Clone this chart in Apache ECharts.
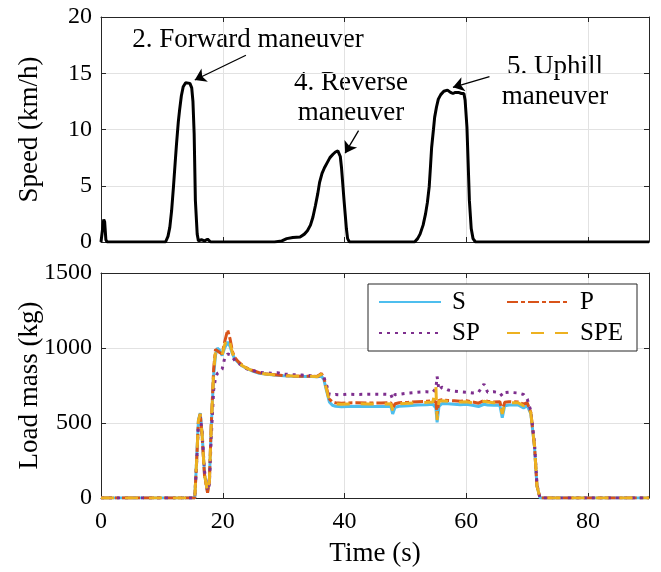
<!DOCTYPE html>
<html>
<head>
<meta charset="utf-8">
<script src="https://cdn.jsdelivr.net/npm/echarts@6/dist/echarts.min.js"></script>
<style>
  html, body { margin: 0; padding: 0; background: #fff; }
  #chart { width: 661px; height: 572px; }
</style>
</head>
<body>
<div id="chart"></div>
<script>
// top panel: vehicle speed
const timeSpeed = [0, 0.3, 0.45, 0.6, 0.8, 1.0, 6.0, 6.2, 6.4,
  10.6, 11.0, 11.3, 11.6, 11.9, 12.2, 12.4, 12.7, 12.9, 13.2,
  13.5, 13.9, 14.2, 14.6, 14.9, 15.1, 15.3, 15.5, 15.8, 16.0,
  16.5, 17.0, 17.5, 18.0,
  28.5, 29.7, 30.5, 31.5, 32.7, 33.4, 33.9, 34.4, 34.8, 35.2,
  35.6, 35.9, 36.3, 36.7, 37.2, 37.6, 38.1, 38.5, 38.9, 39.1,
  39.3, 39.5, 39.7, 39.9, 40.1, 40.3, 40.5, 40.8,
  51.5, 52.0, 52.4, 52.9, 53.3, 53.6, 53.9, 54.1, 54.3, 54.6,
  54.8, 55.1, 55.4, 55.8, 56.3, 56.9, 57.4, 57.8, 58.2, 58.7,
  59.2, 59.6, 59.8, 60.1, 60.3, 60.5, 60.8, 61.1, 61.5, 90]
const speedKmh = [0, 0, 2.0, 1.8, 0.2, 0, 0, 0.15, 0,
  0, 0.5, 1.3, 2.8, 4.9, 7.2, 8.7, 10.7, 11.7, 13.0,
  13.8, 14.15, 14.2, 14.1, 13.7, 12.5, 9.6, 3.7, 0.7, 0.1,
  0.2, 0.1, 0.25, 0,
  0, 0.1, 0.3, 0.4, 0.45, 0.7, 1.0, 1.5, 2.2, 3.2,
  4.3, 5.3, 6.1, 6.6, 7.1, 7.5, 7.8, 8.0, 8.1, 8.0,
  7.6, 6.6, 5.2, 3.8, 2.5, 1.2, 0.3, 0,
  0, 0.3, 0.7, 1.5, 2.5, 3.5, 4.9, 6.6, 8.4, 10.0,
  11.1, 12.0, 12.7, 13.1, 13.4, 13.5, 13.3, 13.2, 13.3, 13.3,
  13.2, 13.2, 12.6, 10.2, 7.0, 3.7, 1.2, 0.3, 0, 0]

// bottom panel: estimated load mass
const timeMass = [0, 15.4, 15.7, 16.0, 16.3, 16.6, 17.0, 17.5, 17.8, 18.1,
  18.5, 18.8, 19.1, 19.5, 19.9, 20.3, 20.8, 21.2, 21.6, 22.0,
  22.5, 23.2, 24.0, 25.0, 26.0, 27.0, 28.0, 29.0, 30.0, 31.5,
  33.0, 34.5, 35.5, 36.2, 36.6, 37.0, 37.5, 38.0, 38.5, 39.5,
  40.5, 42.0, 44.0, 46.0, 47.6, 47.9, 48.3, 49.0, 50.5, 52.0,
  53.5, 54.5, 55.0, 55.2, 55.5, 56.0, 57.0, 58.0, 59.0, 60.0,
  61.0, 62.0, 62.9, 63.5, 64.5, 65.5, 65.9, 66.3, 67.0, 68.5,
  69.4, 70.0, 70.6, 71.2, 71.6, 72.1, 90]
const massS = [0, 0, 250, 520, 565, 430, 160, 40, 120, 470,
  820, 950, 1000, 985, 950, 1000, 1040, 1010, 960, 925,
  905, 880, 862, 845, 832, 826, 822, 818, 815, 812,
  810, 810, 808, 812, 790, 720, 640, 618, 612, 608,
  610, 612, 610, 610, 612, 560, 605, 612, 615, 620,
  622, 625, 600, 505, 610, 630, 628, 625, 622, 625,
  618, 610, 625, 620, 618, 620, 535, 615, 620, 620,
  600, 615, 560, 340, 80, 0, 0]
const massP = [0, 0, 240, 510, 560, 420, 150, 35, 110, 480,
  860, 990, 995, 970, 960, 1040, 1120, 1060, 975, 935,
  910, 885, 865, 848, 835, 828, 824, 820, 816, 814,
  812, 812, 810, 830, 800, 740, 660, 640, 635, 632,
  634, 635, 633, 633, 635, 600, 628, 635, 638, 642,
  645, 648, 640, 560, 650, 655, 650, 648, 645, 648,
  640, 632, 650, 645, 640, 642, 580, 638, 642, 640,
  625, 635, 570, 345, 80, 0, 0]
const massSP = [0, 0, 230, 500, 550, 440, 180, 50, 90, 400,
  720, 800, 830, 840, 860, 930, 960, 955, 940, 915,
  900, 880, 860, 850, 838, 835, 832, 835, 826, 822,
  820, 815, 812, 815, 805, 760, 690, 685, 690, 688,
  692, 690, 692, 692, 690, 660, 690, 692, 700, 705,
  708, 705, 730, 810, 720, 740, 720, 712, 708, 705,
  700, 705, 760, 705, 708, 702, 680, 702, 705, 700,
  690, 660, 580, 360, 90, 0, 0]
const massSPE = [0, 0, 245, 515, 560, 425, 155, 38, 115, 475,
  840, 975, 990, 975, 955, 1020, 1070, 1030, 965, 930,
  908, 882, 864, 846, 834, 827, 823, 819, 816, 813,
  811, 811, 809, 825, 795, 730, 650, 632, 628, 625,
  627, 628, 627, 627, 628, 585, 620, 628, 632, 636,
  638, 640, 740, 520, 645, 648, 645, 642, 640, 642,
  635, 628, 645, 640, 635, 638, 560, 632, 636, 635,
  615, 630, 565, 342, 80, 0, 0]

const seriesNames = ['S', 'P', 'SP', 'SPE']
const seriesColors = ['#4DBEEE', '#D95319', '#7E2F8E', '#EDB120']
const seriesDash = ['solid', [11, 3, 4, 3], [3, 5], [13, 11]]
const massValues = [massS, massP, massSP, massSPE]

// annotation arrows [tail time, tail speed, head time, head speed]
const arrows = [
  [23.8, 16.6, 15.4, 14.4],
  [42.3, 9.9, 40.1, 7.9],
  [63.8, 14.7, 57.8, 13.75]
]

const FONT = 'Liberation Serif'
const AXIS_COLOR = '#262626'
const GRID_COLOR = '#e2e2e2'

const chart = echarts.init(document.getElementById('chart'))

const pairs = (xs, ys) => xs.map((x, i) => [x, ys[i]])

const makeX = (gridIndex, position, labels) => ({
  type: 'value',
  gridIndex: gridIndex,
  position: position,
  min: 0,
  max: 90,
  interval: 20,
  axisLine: { onZero: false, lineStyle: { color: AXIS_COLOR, width: 1 } },
  axisTick: { inside: true, length: 5, lineStyle: { color: AXIS_COLOR } },
  axisLabel: {
    show: labels,
    showMaxLabel: false,
    margin: 12,
    color: '#000',
    fontFamily: FONT,
    fontSize: 24
  },
  splitLine: { show: position === 'bottom', lineStyle: { color: GRID_COLOR } }
})

const makeY = (gridIndex, position, max, interval, name) => ({
  type: 'value',
  gridIndex: gridIndex,
  position: position,
  min: 0,
  max: max,
  interval: interval,
  name: name,
  nameLocation: 'middle',
  nameRotate: 90,
  nameGap: 58,
  nameMoveOverlap: false,
  nameTextStyle: { color: '#000', fontFamily: FONT, fontSize: 27 },
  axisLine: { onZero: false, lineStyle: { color: AXIS_COLOR, width: 1 } },
  axisTick: { inside: true, length: 5, lineStyle: { color: AXIS_COLOR } },
  axisLabel: {
    show: position === 'left',
    margin: 9,
    color: '#000',
    fontFamily: FONT,
    fontSize: 24,
    formatter: v => String(v)
  },
  splitLine: { show: position === 'left', lineStyle: { color: GRID_COLOR } }
})

const xBottom = makeX(1, 'bottom', true)
xBottom.name = 'Time (s)'
xBottom.nameLocation = 'middle'
xBottom.nameGap = 42
xBottom.nameMoveOverlap = false
xBottom.nameTextStyle = { color: '#000', fontFamily: FONT, fontSize: 27 }

const annotationText = (x, y, text) => ({
  type: 'text',
  x: x,
  y: y,
  style: {
    text: text,
    fontFamily: FONT,
    fontSize: 27,
    lineHeight: 30,
    fill: '#000',
    align: 'center',
    verticalAlign: 'middle'
  }
})

const option = {
  animation: false,
  backgroundColor: '#fff',
  grid: [
    { left: 101, right: 12, top: 17, height: 225, outerBoundsMode: 'none', containLabel: false },
    { left: 101, right: 12, top: 273, height: 225, outerBoundsMode: 'none', containLabel: false }
  ],
  xAxis: [
    makeX(0, 'bottom', false),
    makeX(0, 'top', false),
    xBottom,
    makeX(1, 'top', false)
  ],
  yAxis: [
    makeY(0, 'left', 20, 5, 'Speed (km/h)'),
    makeY(0, 'right', 20, 5, ''),
    makeY(1, 'left', 1500, 500, 'Load mass (kg)'),
    makeY(1, 'right', 1500, 500, '')
  ],
  legend: {
    data: seriesNames,
    left: 368,
    top: 284,
    width: 260,
    orient: 'horizontal',
    itemWidth: 62,
    itemHeight: 14,
    itemGap: 5,
    padding: [5, 8, 5, 10],
    borderColor: AXIS_COLOR,
    borderWidth: 1,
    borderRadius: 0,
    backgroundColor: '#fff',
    itemStyle: { opacity: 0 },
    textStyle: {
      color: '#000',
      fontFamily: FONT,
      fontSize: 25,
      width: 49,
      lineHeight: 26,
      padding: [0, 0, 0, 6]
    }
  },
  graphic: [
    annotationText(248, 40, '2. Forward maneuver'),
    annotationText(351, 98, '4. Reverse\nmaneuver'),
    annotationText(555, 82, '5. Uphill\nmaneuver')
  ],
  series: [
    {
      name: 'Speed',
      type: 'line',
      xAxisIndex: 0,
      yAxisIndex: 0,
      data: pairs(timeSpeed, speedKmh),
      symbol: 'none',
      lineStyle: { color: '#000', width: 3 },
      markLine: {
        silent: true,
        symbol: ['none', 'arrow'],
        symbolSize: 11,
        label: { show: false },
        lineStyle: { color: '#000', width: 1.3, type: 'solid' },
        data: arrows.map(a => [{ coord: [a[0], a[1]] }, { coord: [a[2], a[3]] }])
      }
    }
  ].concat(seriesNames.map((name, i) => ({
    name: name,
    type: 'line',
    xAxisIndex: 2,
    yAxisIndex: 2,
    data: pairs(timeMass, massValues[i]),
    symbol: 'none',
    itemStyle: { color: seriesColors[i] },
    lineStyle: { color: seriesColors[i], width: 3, type: seriesDash[i] }
  })))
}

chart.setOption(option)
</script>
</body>
</html>
